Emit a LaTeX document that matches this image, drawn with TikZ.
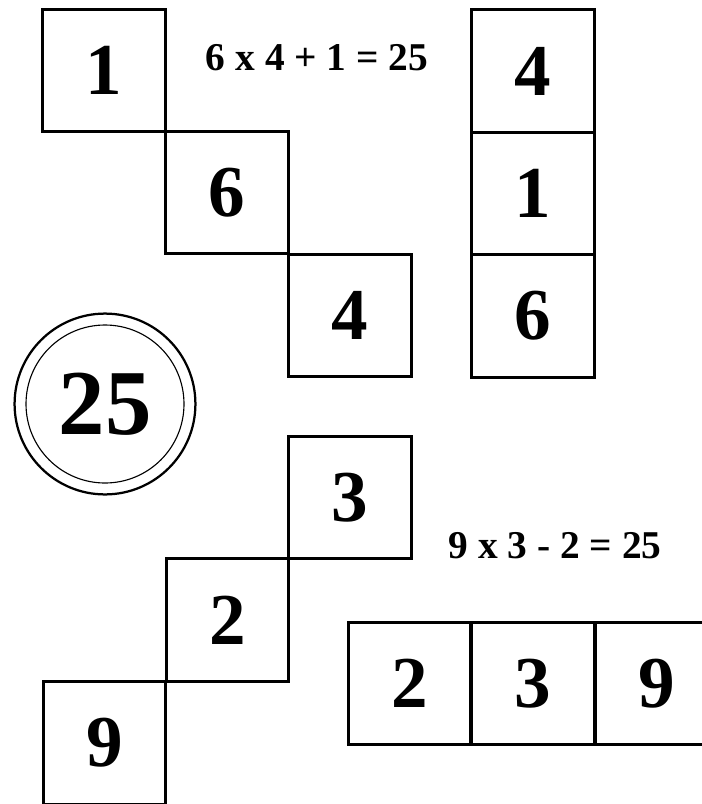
\documentclass[tikz,border=0pt]{standalone}
\usepackage{fontspec}
\setmainfont{Liberation Serif}
\usetikzlibrary{positioning}

\begin{document}
\begin{tikzpicture}[x=0.025cm, y=-0.025cm,
  cell/.style={draw, line width=2pt, minimum size=3.06cm, inner sep=0pt, font=\fontsize{52}{52}\selectfont\bfseries},
  eq/.style={font=\fontsize{28}{28}\selectfont\bfseries}]
\useasboundingbox (0,0) rectangle (702,804);
\clip (0,0) rectangle (702,804);
% Diagonal 1-6-4
\node[cell] (d1) at (104,70.5) {1};
\node[cell] (d6) at (227,192.5) {6};
\node[cell] (d4) at (350,315.5) {4};
\node[eq] (eqa) at (317,58) {6 x 4 + 1 = 25};
% Column 4-1-6
\node[cell] (v4) at (533,71) {4};
\node[cell] (v1) at (533,193.5) {1};
\node[cell] (v6) at (533,316) {6};
% Target number
\node[draw, circle, line width=1.6pt, minimum size=4.52cm, inner sep=0pt,
  font=\fontsize{66}{66}\selectfont\bfseries] (goal) at (105,404) {25};
\draw[line width=0.8pt] (goal.center) circle (79);
% Diagonal 3-2-9
\node[cell] (e3) at (350,497.5) {3};
\node[cell] (e2) at (227.5,620) {2};
\node[cell] (e9) at (104.5,743) {9};
\node[eq] (eqb) at (555,546) {9 x 3 - 2 = 25};
% Row 2-3-9
\node[cell] (h2) at (409.5,683.5) {2};
\node[cell] (h3) at (533,683.5) {3};
\node[cell] (h9) at (656.5,683.5) {9};
\end{tikzpicture}
\end{document}
